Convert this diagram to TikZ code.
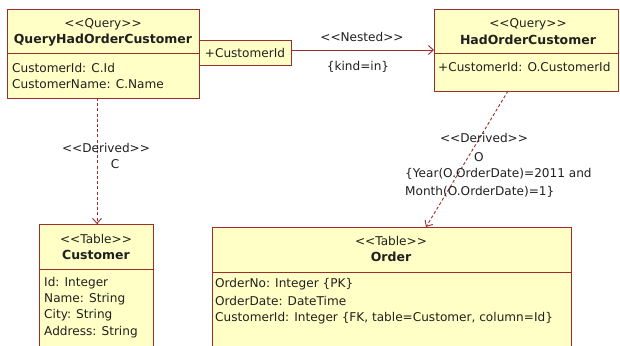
\documentclass[tikz,border=0pt]{standalone}
\usepackage{fontspec}
\setmainfont{DejaVu Sans}
\usetikzlibrary{arrows.meta}
% stereotype brackets; the kern keeps << from turning into a guillemet
\newcommand\stOpen{<\kern0pt<}
\newcommand\stClose{>\kern0pt>}
\definecolor{umlfill}{HTML}{FFFFC6}
\definecolor{umlline}{HTML}{9A2E2E}
\definecolor{umltext}{HTML}{202020}
\tikzset{
  umlbox/.style={draw=umlline, fill=umlfill, line width=0.9pt, inner sep=0pt, anchor=north west},
  txt/.style={inner sep=0pt, text=umltext, font=\fontsize{12.1}{14}\selectfont},
  ttl/.style={txt, font=\bfseries\fontsize{12.5}{14}\selectfont},
  lft/.style={txt, anchor=west},
  link/.style={draw=umlline, line width=0.9pt},
  derived/.style={link, dash pattern=on 3pt off 2.2pt, -{Straight Barb[length=5pt,width=9pt]}},
  nested/.style={link, -{Straight Barb[length=5pt,width=9pt]}},
}
\begin{document}
\begin{tikzpicture}[x=1pt,y=-1pt]
\useasboundingbox (0,0) rectangle (620,345);
\clip (0,0) rectangle (620,345);
\fill[white] (0,0) rectangle (620,345);

% QueryHadOrderCustomer
\node[umlbox, minimum width=192pt, minimum height=89pt] (qhoc) at (7,9) {};
\draw[umlline, line width=0.9pt] (7,53) -- (199,53);
\node[txt] (qhocS) at (103,24) {\stOpen Query\stClose};
\node[ttl] (qhocN) at (103,40) {QueryHadOrderCustomer};
\node[lft] (qhocA1) at (12,68) {CustomerId: C.Id};
\node[lft] (qhocA2) at (12,84) {CustomerName: C.Name};

% parameter box
\node[umlbox, minimum width=92pt, minimum height=25pt] (cid) at (199,40) {};
\node[txt] (cidT) at (245,52.5) {+CustomerId};

% HadOrderCustomer
\node[umlbox, minimum width=184pt, minimum height=82pt] (hoc) at (434,9) {};
\draw[umlline, line width=0.9pt] (434,53) -- (618,53);
\node[txt] (hocS) at (528,24) {\stOpen Query\stClose};
\node[ttl] (hocN) at (528,40) {HadOrderCustomer};
\node[lft] (hocA1) at (438,67) {+CustomerId: O.CustomerId};

% Customer table
\node[umlbox, minimum width=114pt, minimum height=140pt] (cust) at (39,224) {};
\draw[umlline, line width=0.9pt] (39,269) -- (153,269);
\node[txt] (custS) at (96,239) {\stOpen Table\stClose};
\node[ttl] (custN) at (96,255) {Customer};
\node[lft] (custA1) at (44,283) {Id: Integer};
\node[lft] (custA2) at (44,299) {Name: String};
\node[lft] (custA3) at (44,315) {City: String};
\node[lft] (custA4) at (44,332) {Address: String};

% Order table
\node[umlbox, minimum width=359pt, minimum height=140pt] (ord) at (212,227) {};
\draw[umlline, line width=0.9pt] (212,272) -- (571,272);
\node[txt] (ordS) at (391,241) {\stOpen Table\stClose};
\node[ttl] (ordN) at (391,257) {Order};
\node[lft] (ordA1) at (215,284) {OrderNo: Integer \{PK\}};
\node[lft] (ordA2) at (215,301) {OrderDate: DateTime};
\node[lft] (ordA3) at (215,318) {CustomerId: Integer \{FK, table=Customer, column=Id\}};

% Nested link
\coordinate (nA) at (291,50);
\coordinate (nB) at (434,50);
\draw[nested] (nA) -- (nB);
\node[txt] (nL1) at (362,37) {\stOpen Nested\stClose};
\node[txt] (nL2) at (358,67) {\{kind=in\}};

% Derived links
\coordinate (dA1) at (97,98);
\coordinate (dA2) at (97,224);
\draw[derived] (dA1) -- (dA2);
\node[txt] (dL1) at (106,148) {\stOpen Derived\stClose};
\node[txt] (dL2) at (115,164) {C};

\coordinate (dB1) at (508,91);
\coordinate (dB2) at (426,227);
\draw[derived] (dB1) -- (dB2);
\node[txt] (eL1) at (484,138) {\stOpen Derived\stClose};
\node[txt] (eL2) at (479,157) {O};
\node[lft] (eL3) at (405,174) {\{Year(O.OrderDate)=2011 and};
\node[lft] (eL4) at (405,192) {Month(O.OrderDate)=1\}};
\end{tikzpicture}
\end{document}
